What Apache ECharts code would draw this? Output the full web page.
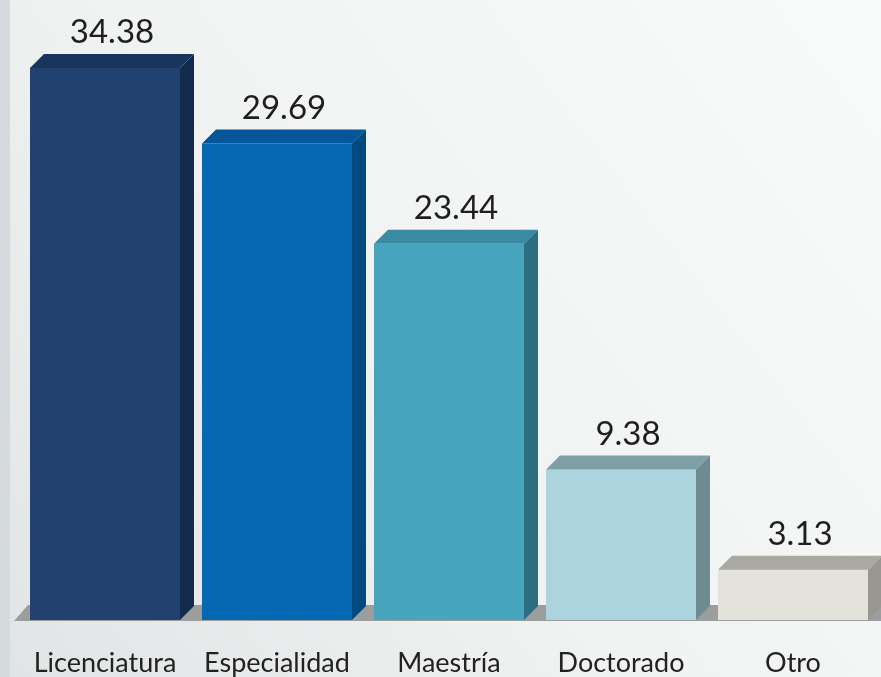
<!DOCTYPE html>
<html>
<head>
<meta charset="utf-8">
<script src="https://cdn.jsdelivr.net/npm/echarts@6/dist/echarts.min.js"></script>
<style>
  html, body { margin: 0; padding: 0; }
  #chart { width: 881px; height: 677px; }
</style>
</head>
<body>
<div id="chart"></div>
<script>
const categories = ['Licenciatura', 'Especialidad', 'Maestría', 'Doctorado', 'Otro'];
const values = [34.38, 29.69, 23.44, 9.38, 3.13];
const frontColors = ['#21426f', '#0468b2', '#46a4bf', '#abd4df', '#e3e3dc'];
const topColors = ['#1a355d', '#03569a', '#3a8ba2', '#7f9fa7', '#a9a9a1'];
const sideColors = ['#132a4c', '#004a80', '#2e6d80', '#6f8b92', '#979790'];

const DEPTH = 14; // profundidad 3D

function renderFloor(params, api) {
    const cs = params.coordSys;
    const y = api.coord([0, 0])[1];
    const l = cs.x - 5;
    const r = cs.x + cs.width + 20;
    return {
        type: 'polygon',
        shape: { points: [[l, y + 1], [l + DEPTH, y - DEPTH - 1], [r, y - DEPTH - 1], [r, y + 1]] },
        style: { fill: '#9c9d9d' }
    };
}

function renderBar(params, api) {
    const idx = params.dataIndex;
    const top = api.coord([api.value(0), api.value(1)]);
    const base = api.coord([api.value(0), 0]);
    const w = api.size([1, 0])[0] * 0.872;
    const l = top[0] - w / 2;
    const r = top[0] + w / 2;
    const t = top[1];
    const b = base[1];
    return {
        type: 'group',
        children: [
            {
                type: 'rect',
                shape: { x: l, y: t, width: w, height: b - t },
                style: { fill: frontColors[idx] }
            },
            {
                type: 'polygon',
                shape: { points: [[l, t], [l + DEPTH, t - DEPTH], [r + DEPTH, t - DEPTH], [r, t]] },
                style: { fill: topColors[idx] }
            },
            {
                type: 'polygon',
                shape: { points: [[r, t], [r + DEPTH, t - DEPTH], [r + DEPTH, b - DEPTH], [r, b]] },
                style: { fill: sideColors[idx] }
            },
            {
                type: 'text',
                style: {
                    text: values[idx].toFixed(2),
                    x: top[0] + DEPTH / 2,
                    y: t - DEPTH - 5,
                    textAlign: 'center',
                    textVerticalAlign: 'bottom',
                    font: '33px Lato',
                    fill: '#1e1e1e'
                }
            }
        ]
    };
}

const myChart = echarts.init(document.getElementById('chart'));
myChart.setOption({
    backgroundColor: {
        type: 'linear', x: 1, y: 0, x2: 0, y2: 1,
        colorStops: [
            { offset: 0, color: '#f9fafa' },
            { offset: 0.55, color: '#f1f2f2' },
            { offset: 1, color: '#e1e4e5' }
        ]
    },
    graphic: [
        {
            type: 'rect',
            left: 0,
            top: 0,
            shape: { width: 10, height: 677 },
            style: { fill: '#d4dadd' },
            z: -1
        }
    ],
    grid: { left: 19, right: 2, top: 10, bottom: 57 },
    xAxis: {
        type: 'category',
        data: categories,
        axisLine: { show: false },
        axisTick: { show: false },
        axisLabel: {
            interval: 0,
            color: '#222',
            fontSize: 27,
            fontFamily: 'Lato',
            margin: 30
        }
    },
    yAxis: {
        type: 'value',
        min: 0,
        max: 38,
        show: false
    },
    series: [
        {
            type: 'custom',
            renderItem: renderFloor,
            data: [[0, 0]],
            z: 1,
            silent: true
        },
        {
            type: 'custom',
            renderItem: renderBar,
            data: values.map((v, i) => [i, v]),
            z: 2
        }
    ]
});
</script>
</body>
</html>
